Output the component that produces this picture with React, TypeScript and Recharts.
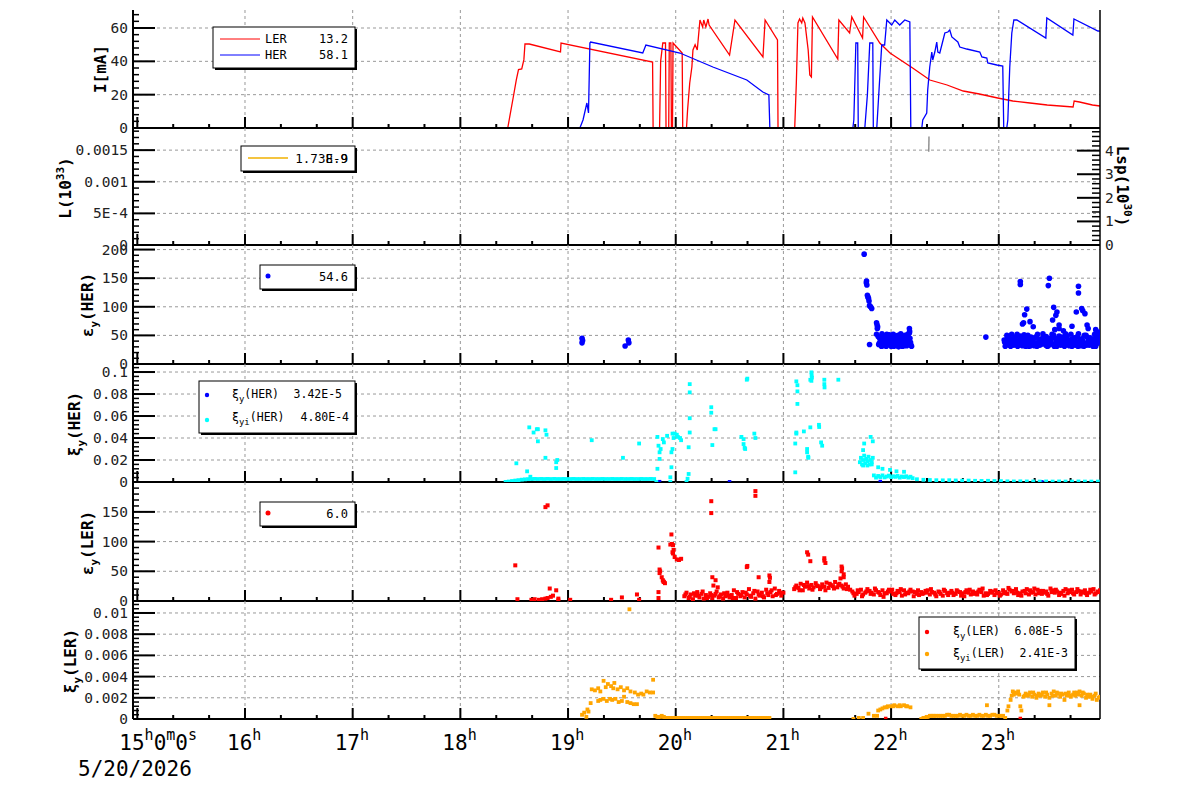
import React from "react"
import { ComposedChart, Line, Scatter, XAxis, YAxis, CartesianGrid } from "recharts"

// time axis: hours after 15:00 on 5/20/2026
const hourLabels = ["15", "16", "17", "18", "19", "20", "21", "22", "23"]
const dateLabel = "5/20/2026"

// beam currents [h, mA]
const lerCurrent = [
  [-0.04, 0], [3.44, 0], [3.49, 18], [3.52, 29], [3.54, 35], [3.57, 35.4], [3.59, 41], [3.6, 50.4], [3.64, 50.4],
  [3.93, 45.6], [3.935, 51], [4.785, 39.6], [4.79, 0], [4.85, 0], [4.86, 40], [4.88, 51], [4.905, 51], [4.91, 0],
  [4.935, 0], [4.94, 51], [4.955, 51], [4.96, 0], [4.97, 0], [4.975, 51], [5.06, 45], [5.065, 0], [5.1, 0],
  [5.11, 10.8], [5.13, 27], [5.15, 36.6], [5.16, 46.8], [5.18, 50], [5.2, 46.8], [5.225, 64.8], [5.25, 60.6],
  [5.26, 64.8], [5.28, 60.6], [5.3, 65.4], [5.31, 61.8], [5.5, 43.8], [5.55, 64.8], [5.81, 42.6], [5.83, 64.8],
  [5.945, 52.8], [5.95, 0], [6.105, 0], [6.12, 27], [6.135, 63], [6.15, 65.4], [6.17, 63], [6.18, 66], [6.2, 63],
  [6.23, 46.8], [6.245, 31.8], [6.26, 30.6], [6.27, 66.6], [6.505, 41.4], [6.515, 64.8], [6.615, 57], [6.635, 66.6],
  [6.735, 54], [6.745, 66.6], [6.895, 51], [6.99, 45], [7.2, 36], [7.36, 28.8], [7.52, 25.8], [7.67, 22.2],
  [7.82, 20.4], [7.99, 18], [8.13, 16.2], [8.29, 15], [8.45, 13.8], [8.69, 12.6], [8.7, 16.2], [8.75, 15.6],
  [8.87, 13.8], [8.94, 13.2],
]
const herCurrent = [
  [-0.04, 0], [4.11, 0], [4.139, 4.8], [4.175, 15], [4.19, 9], [4.203, 51], [4.21, 51.6], [4.694, 45], [4.723, 49.8],
  [5.039, 45], [5.345, 36.6], [5.66, 28.8], [5.809, 21.6], [5.865, 19.8], [5.874, 0], [6.645, 0], [6.654, 4.8],
  [6.673, 51], [6.69, 51], [6.695, 0], [6.756, 0], [6.78, 20], [6.802, 51], [6.83, 51], [6.835, 0], [6.867, 0],
  [6.89, 25], [6.913, 49.8], [6.94, 49.8], [6.96, 64.8], [7.006, 61.8], [7.034, 64.8], [7.08, 61.8], [7.127, 64.8],
  [7.174, 63.6], [7.183, 0], [7.285, 0], [7.294, 4.8], [7.331, 9], [7.34, 22.8], [7.359, 36.6], [7.378, 45.6],
  [7.387, 40.8], [7.406, 45.6], [7.424, 51.6], [7.434, 45.6], [7.452, 45], [7.471, 49.8], [7.499, 57], [7.527, 57.6],
  [7.545, 58.8], [7.564, 54.6], [7.62, 51.6], [7.638, 48.6], [7.703, 47.4], [7.824, 45.6], [7.843, 42.6],
  [7.889, 42], [7.898, 39], [7.982, 37.8], [8.037, 37.2], [8.046, 0], [8.074, 0], [8.084, 4.8], [8.102, 36.6],
  [8.121, 57], [8.14, 64.8], [8.168, 64.8], [8.437, 54], [8.446, 66], [8.688, 55.8], [8.698, 65.4], [8.921, 58.2],
  [8.94, 58.1],
]

// luminosity
const lumL = [[0, 0], [8.9, 0]]
const lumLsp = [[7.35, 3.95], [7.352, 4.6]]

// vertical emittance HER
const herEmitEarly = [[4.13, 37], [4.13, 45], [4.135, 41], [4.53, 31.5], [4.56, 42], [4.565, 37]]
const herEmitSpikes = [
  [6.75, 192], [6.77, 142], [6.772, 145], [6.775, 138], [6.78, 120], [6.785, 117], [6.79, 115], [6.795, 110],
  [6.8, 102], [6.81, 100], [6.82, 97], [6.865, 72], [6.87, 68], [6.875, 65], [6.872, 62], [6.865, 52], [6.8, 34],
  [7.17, 62], [7.172, 57], [7.88, 47],
]
const herEmitBand1 = [
  [6.88, 48], [6.89, 36], [6.9, 42], [6.91, 31], [6.92, 50], [6.93, 38], [6.94, 45], [6.95, 33], [6.96, 52],
  [6.97, 40], [6.98, 35], [6.99, 47], [7.0, 31], [7.01, 44], [7.02, 52], [7.03, 37], [7.04, 33], [7.05, 49],
  [7.06, 41], [7.07, 30], [7.08, 46], [7.09, 53], [7.1, 36], [7.11, 43], [7.12, 32], [7.13, 50], [7.14, 39],
  [7.15, 34], [7.16, 47], [7.17, 54], [7.18, 38], [7.19, 31],
  [6.885, 34], [6.895, 45], [6.905, 38], [6.915, 53], [6.925, 32], [6.935, 47], [6.945, 40], [6.955, 31],
  [6.965, 44], [6.975, 36], [6.985, 51], [6.995, 33], [7.005, 39], [7.015, 48], [7.025, 31], [7.035, 45],
  [7.045, 37], [7.055, 32], [7.065, 50], [7.075, 43], [7.085, 34], [7.095, 40], [7.105, 31], [7.115, 48],
  [7.125, 36], [7.135, 44], [7.145, 32], [7.155, 52], [7.165, 39], [7.175, 45], [7.185, 33],
]
const herEmitBand2 = [
  [8.05, 42], [8.07, 35], [8.09, 48], [8.11, 31], [8.13, 44], [8.15, 38], [8.17, 52], [8.19, 33], [8.21, 46],
  [8.23, 40], [8.25, 31], [8.27, 50], [8.29, 37], [8.31, 44], [8.33, 32], [8.35, 48], [8.37, 39], [8.39, 34],
  [8.41, 53], [8.43, 41], [8.45, 31], [8.47, 45], [8.49, 36], [8.51, 50], [8.53, 33], [8.55, 42], [8.57, 38],
  [8.59, 47], [8.61, 31], [8.63, 44], [8.65, 36], [8.67, 52], [8.69, 40], [8.71, 33], [8.73, 48], [8.75, 37],
  [8.77, 44], [8.79, 31], [8.81, 50], [8.83, 39], [8.85, 46], [8.87, 34], [8.89, 52], [8.91, 41], [8.93, 47],
  [8.06, 31], [8.08, 45], [8.1, 38], [8.12, 52], [8.14, 33], [8.16, 41], [8.18, 36], [8.2, 49], [8.22, 32],
  [8.24, 43], [8.26, 37], [8.28, 31], [8.3, 47], [8.32, 40], [8.34, 35], [8.36, 52], [8.38, 33], [8.4, 44],
  [8.42, 38], [8.44, 48], [8.46, 32], [8.48, 41], [8.5, 35], [8.52, 45], [8.54, 31], [8.56, 49], [8.58, 36],
  [8.6, 42], [8.62, 53], [8.64, 34], [8.66, 40], [8.68, 31], [8.7, 46], [8.72, 38], [8.74, 53], [8.76, 32],
  [8.78, 41], [8.8, 36], [8.82, 47], [8.84, 33], [8.86, 43], [8.88, 38], [8.9, 31], [8.92, 56], [8.94, 44],
  [8.055, 38], [8.075, 50], [8.095, 33], [8.115, 41], [8.135, 36], [8.155, 47], [8.175, 31], [8.195, 42],
  [8.215, 37], [8.235, 51], [8.255, 34], [8.275, 44], [8.295, 32], [8.315, 39], [8.335, 46], [8.355, 31],
  [8.375, 43], [8.395, 36], [8.415, 48], [8.435, 33], [8.455, 40], [8.475, 35], [8.495, 52], [8.515, 31],
  [8.535, 38], [8.555, 45], [8.575, 33], [8.595, 40], [8.615, 36], [8.635, 49], [8.655, 32], [8.675, 43],
  [8.695, 37], [8.715, 46], [8.735, 31], [8.755, 41], [8.775, 35], [8.795, 50], [8.815, 33], [8.835, 44],
  [8.855, 38], [8.875, 31], [8.895, 45], [8.915, 36], [8.935, 42],
]
const herEmitOutliers = [
  [8.2, 144], [8.2, 139], [8.47, 150], [8.46, 137], [8.74, 136], [8.74, 124], [8.26, 96], [8.24, 86], [8.23, 72],
  [8.29, 74], [8.51, 99], [8.54, 91], [8.53, 85], [8.5, 77], [8.56, 68], [8.56, 62], [8.72, 91], [8.77, 97],
  [8.78, 93], [8.8, 88], [8.68, 66], [8.82, 68], [8.83, 62], [8.32, 65], [8.22, 70], [8.52, 60], [8.6, 58],
  [8.9, 60], [8.93, 55],
]

// beam-beam parameter HER
const herXiY = [[4.85, 0.0003], [5.5, 0.0002], [6.9, 0.0004], [7.6, 0.0002], [8.4, 0.0001]]
const herXiYiBase = [
  [3.42, 0.0001], [3.45, 0.0004], [3.48, 0.0009], [3.51, 0.0013], [3.54, 0.0017], [3.57, 0.0021], [3.6, 0.0024],
  [3.63, 0.0026], [3.66, 0.0027], [3.69, 0.0028], [3.72, 0.0027], [3.75, 0.0028], [3.78, 0.0027], [3.81, 0.0028],
  [3.84, 0.0027], [3.87, 0.0028], [3.9, 0.0027], [3.93, 0.0027], [3.96, 0.0028], [3.99, 0.0027], [4.02, 0.0027],
  [4.05, 0.0028], [4.08, 0.0027], [4.11, 0.0027], [4.14, 0.0028], [4.17, 0.0027], [4.2, 0.0027], [4.23, 0.0028],
  [4.26, 0.0027], [4.29, 0.0027], [4.32, 0.0028], [4.35, 0.0027], [4.38, 0.0027], [4.41, 0.0028], [4.44, 0.0027],
  [4.47, 0.0027], [4.5, 0.0028], [4.53, 0.0027], [4.56, 0.0027], [4.59, 0.0028], [4.62, 0.0027], [4.65, 0.0027],
  [4.68, 0.0028], [4.71, 0.0027], [4.74, 0.0027], [4.77, 0.0028], [4.8, 0.0027],
]
const herXiYiScatter = [
  [3.64, 0.0497], [3.68, 0.045], [3.71, 0.048], [3.72, 0.048], [3.79, 0.047], [3.8, 0.043], [3.72, 0.037],
  [3.52, 0.017], [3.62, 0.0097], [3.65, 0.0048], [3.79, 0.022], [3.89, 0.018], [3.9, 0.02], [3.89, 0.0127],
  [4.22, 0.038], [4.51, 0.022], [4.66, 0.035],
  [4.83, 0.041], [4.84, 0.033], [4.85, 0.027], [4.85, 0.021], [4.83, 0.012], [4.86, 0.03], [4.88, 0.039],
  [4.89, 0.036], [4.92, 0.042], [4.97, 0.044], [4.98, 0.04], [4.96, 0.027], [4.96, 0.0134], [4.95, 0.0043],
  [4.97, 0.03], [4.99, 0.044], [5.01, 0.043], [5.02, 0.041], [5.04, 0.04], [5.05, 0.038], [4.82, 0.0], [4.95, 0.0],
  [5.1, 0.0], [5.13, 0.089], [5.13, 0.0815], [5.13, 0.058], [5.13, 0.045], [5.12, 0.0316], [5.12, 0.0073],
  [5.11, 0.003], [5.33, 0.068], [5.33, 0.063], [5.36, 0.048], [5.37, 0.048], [5.34, 0.0336], [5.66, 0.093],
  [5.665, 0.094], [5.61, 0.041], [5.63, 0.039], [5.63, 0.0345], [5.64, 0.031], [5.645, 0.03], [5.73, 0.044],
  [5.74, 0.04], [6.12, 0.0915], [6.13, 0.088], [6.13, 0.0824], [6.13, 0.071], [6.12, 0.045], [6.12, 0.044],
  [6.11, 0.035], [6.11, 0.0088], [6.26, 0.0997], [6.262, 0.097], [6.265, 0.095], [6.25, 0.093], [6.26, 0.092],
  [6.38, 0.093], [6.38, 0.089], [6.382, 0.086], [6.51, 0.093], [6.19, 0.046], [6.25, 0.0497], [6.33, 0.052],
  [6.332, 0.05], [6.35, 0.036], [6.36, 0.033], [6.22, 0.03], [6.22, 0.027], [6.23, 0.023], [6.232, 0.022],
  [6.74, 0.029], [6.81, 0.041], [6.83, 0.037], [6.75, 0.035],
]
const herXiYiTail = [
  [6.71, 0.018], [6.72, 0.022], [6.73, 0.016], [6.74, 0.02], [6.75, 0.024], [6.76, 0.017], [6.77, 0.021],
  [6.78, 0.019], [6.79, 0.023], [6.8, 0.016], [6.81, 0.02], [6.82, 0.018], [6.83, 0.022], [6.74, 0.015],
  [6.78, 0.015], [6.82, 0.016], [6.88, 0.0134], [6.92, 0.012], [6.99, 0.011], [7.05, 0.0097], [7.12, 0.0093],
  [6.84, 0.006], [6.86, 0.004], [6.88, 0.0055], [6.9, 0.0045], [6.92, 0.006], [6.94, 0.0042], [6.96, 0.005],
  [6.98, 0.0058], [7.0, 0.0044], [7.02, 0.0052], [7.04, 0.0047], [7.06, 0.0055], [7.08, 0.004], [7.1, 0.005],
  [7.12, 0.0045], [7.14, 0.0052], [7.16, 0.004], [7.18, 0.0048], [7.2, 0.0035], [7.24, 0.0025], [7.3, 0.002],
  [7.36, 0.0018], [7.42, 0.0016], [7.48, 0.0015], [7.54, 0.0016], [7.6, 0.0014], [7.66, 0.0012], [7.72, 0.0013],
  [7.78, 0.0011], [7.84, 0.001], [7.9, 0.0011], [7.96, 0.0009], [8.02, 0.0008], [8.08, 0.0006], [8.14, 0.0005],
  [8.2, 0.0006], [8.26, 0.0005], [8.32, 0.0005], [8.38, 0.0004], [8.44, 0.0005], [8.5, 0.0004], [8.56, 0.0005],
  [8.62, 0.0004], [8.68, 0.0004], [8.74, 0.0005], [8.8, 0.0004], [8.86, 0.0004], [8.92, 0.0004],
]

// vertical emittance LER
const lerEmitScatter = [
  [3.51, 60], [3.53, 3], [3.66, 2], [3.69, 3], [3.73, 2], [3.76, 3], [3.79, 4], [3.81, 5], [3.84, 7], [3.83, 21],
  [3.89, 18], [3.86, 9], [3.91, 4], [3.91, 1], [3.79, 158], [3.81, 161], [4.02, 2], [4.4, 2], [4.5, 6], [4.64, 11],
  [4.66, 2], [4.84, 90], [4.85, 53], [4.855, 50], [4.85, 47], [4.87, 40], [4.88, 35], [4.885, 33], [4.89, 32],
  [4.9, 30], [4.84, 15], [4.84, 5], [4.96, 112], [4.95, 95], [4.965, 96], [4.975, 94], [4.97, 82], [4.975, 80],
  [4.99, 74], [5.01, 70], [5.03, 69], [5.05, 71], [4.98, 86], [5.33, 168], [5.33, 148], [5.74, 185], [5.74, 177],
  [5.34, 40], [5.37, 35], [5.35, 26], [5.39, 23], [5.66, 57], [5.665, 59], [5.77, 40], [5.87, 43], [5.875, 39],
  [5.87, 32], [6.22, 82], [6.23, 78], [6.25, 67], [6.38, 72], [6.38, 68], [6.39, 64], [6.54, 58], [6.545, 55],
  [6.54, 50], [6.56, 45], [6.56, 40], [6.53, 38],
]
const lerEmitBand = [
  [5.08, 8], [5.1, 14], [5.12, 5], [5.14, 11], [5.16, 3], [5.18, 9], [5.2, 15], [5.22, 6], [5.24, 12], [5.26, 4],
  [5.28, 10], [5.3, 7], [5.32, 13], [5.34, 5], [5.36, 9], [5.38, 16], [5.4, 6], [5.42, 11], [5.44, 4], [5.46, 8],
  [5.48, 14], [5.5, 6], [5.52, 10], [5.54, 18], [5.56, 5], [5.58, 12], [5.6, 8], [5.62, 15], [5.64, 6], [5.66, 11],
  [5.68, 20], [5.7, 7], [5.72, 13], [5.74, 4], [5.76, 16], [5.78, 9], [5.8, 14], [5.82, 6], [5.84, 19], [5.86, 10],
  [5.88, 15], [5.9, 8], [5.92, 21], [5.94, 12], [5.96, 17], [5.98, 9], [6.0, 14],
  [5.09, 11], [5.13, 7], [5.17, 13], [5.21, 9], [5.25, 16], [5.29, 5], [5.33, 10], [5.37, 12], [5.41, 8],
  [5.45, 13], [5.49, 9], [5.53, 5], [5.57, 15], [5.61, 10], [5.65, 14], [5.69, 9], [5.73, 17], [5.77, 11],
  [5.81, 8], [5.85, 13], [5.89, 18], [5.93, 10], [5.97, 14],
  [6.1, 20], [6.12, 26], [6.14, 22], [6.16, 29], [6.18, 18], [6.2, 24], [6.22, 31], [6.24, 21], [6.26, 27],
  [6.28, 23], [6.3, 30], [6.32, 25], [6.34, 20], [6.36, 28], [6.38, 24], [6.4, 31], [6.42, 22], [6.44, 27],
  [6.46, 25], [6.48, 32], [6.5, 23], [6.52, 29], [6.54, 26], [6.56, 21], [6.58, 28], [6.6, 24], [6.62, 19],
  [6.11, 23], [6.15, 18], [6.19, 27], [6.23, 25], [6.27, 19], [6.31, 26], [6.35, 23], [6.39, 18], [6.43, 29],
  [6.47, 21], [6.51, 27], [6.55, 24], [6.59, 20],
  [6.64, 16], [6.68, 12], [6.72, 19], [6.76, 14], [6.8, 17], [6.84, 11], [6.88, 15], [6.92, 18], [6.96, 13],
  [7.0, 16], [7.04, 10], [7.08, 15], [7.12, 18], [7.16, 13], [7.2, 16], [7.24, 12], [7.28, 15], [7.32, 17],
  [7.36, 11], [7.4, 14], [7.44, 16], [7.48, 9], [7.52, 13], [7.56, 17], [7.6, 12], [7.64, 15], [7.68, 8],
  [7.72, 14], [7.76, 16], [7.8, 11], [7.84, 15], [7.88, 13], [7.92, 17], [7.96, 10], [8.0, 14], [8.04, 18],
  [8.08, 12], [8.12, 16], [8.16, 20], [8.2, 13], [8.24, 17], [8.28, 11], [8.32, 15], [8.36, 19], [8.4, 12],
  [8.44, 16], [8.48, 21], [8.52, 14], [8.56, 10], [8.6, 17], [8.64, 13], [8.68, 19], [8.72, 15], [8.76, 11],
  [8.8, 18], [8.84, 14], [8.88, 20], [8.92, 16],
  [6.66, 9], [6.7, 15], [6.74, 11], [6.78, 20], [6.82, 14], [6.86, 18], [6.9, 10], [6.94, 13], [6.98, 19],
  [7.02, 12], [7.06, 17], [7.1, 9], [7.14, 14], [7.18, 19], [7.22, 15], [7.26, 10], [7.3, 13], [7.34, 18],
  [7.38, 15], [7.42, 8], [7.46, 12], [7.5, 17], [7.54, 14], [7.58, 10], [7.62, 16], [7.66, 13], [7.7, 18],
  [7.74, 11], [7.78, 14], [7.82, 19], [7.86, 9], [7.9, 12], [7.94, 16], [7.98, 13], [8.02, 11], [8.06, 15],
  [8.1, 19], [8.14, 13], [8.18, 10], [8.22, 16], [8.26, 20], [8.3, 14], [8.34, 11], [8.38, 17], [8.42, 14],
  [8.46, 9], [8.5, 18], [8.54, 16], [8.58, 12], [8.62, 20], [8.66, 15], [8.7, 11], [8.74, 17], [8.78, 14],
  [8.82, 10], [8.86, 16], [8.9, 13], [8.94, 18],
  [6.65, 13], [6.69, 18], [6.73, 8], [6.77, 16], [6.81, 12], [6.85, 21], [6.89, 14], [6.93, 7], [6.97, 16],
  [7.01, 19], [7.05, 13], [7.09, 20], [7.13, 11], [7.17, 16], [7.21, 8], [7.25, 18], [7.29, 12], [7.33, 14],
  [7.37, 20], [7.41, 11], [7.45, 15], [7.49, 19], [7.53, 10], [7.57, 14], [7.61, 18], [7.65, 9], [7.69, 15],
  [7.73, 19], [7.77, 12], [7.81, 16], [7.85, 21], [7.89, 10], [7.93, 14], [7.97, 18], [8.01, 9], [8.05, 13],
  [8.09, 22], [8.13, 17], [8.17, 14], [8.21, 9], [8.25, 13], [8.29, 18], [8.33, 21], [8.37, 13], [8.41, 17],
  [8.45, 12], [8.49, 15], [8.53, 19], [8.57, 14], [8.61, 9], [8.65, 18], [8.69, 13], [8.73, 20], [8.77, 16],
  [8.81, 13], [8.85, 19], [8.89, 11], [8.93, 15],
]

// beam-beam parameter LER
const lerXiY = [[6.95, 0.00005], [7.31, 0.00002], [8.2, 0.00005]]
const lerXiYi = [
  [4.13, 0.0004], [4.15, 0.0006], [4.17, 0.0002], [4.19, 0.0007], [4.18, 0.0009], [4.57, 0.01035],
  [4.22, 0.0028], [4.25, 0.0027], [4.28, 0.0029], [4.3, 0.0026], [4.33, 0.0036], [4.35, 0.003], [4.37, 0.0033],
  [4.4, 0.0031], [4.42, 0.0029], [4.43, 0.0034], [4.46, 0.0028], [4.49, 0.003], [4.52, 0.0027], [4.55, 0.0029],
  [4.58, 0.0026], [4.62, 0.0025], [4.65, 0.0023], [4.68, 0.0024], [4.7, 0.0023], [4.73, 0.0026], [4.76, 0.0025],
  [4.79, 0.0025], [4.79, 0.0037],
  [4.21, 0.0015], [4.28, 0.0017], [4.3, 0.0018], [4.33, 0.0019], [4.36, 0.0017], [4.39, 0.0019], [4.41, 0.0018],
  [4.44, 0.0019], [4.47, 0.0016], [4.5, 0.0017], [4.52, 0.0021], [4.55, 0.0016], [4.58, 0.0015], [4.61, 0.0014],
  [4.64, 0.0014],
  [4.81, 0.0003], [4.83, 0.0002], [4.84, 0.0002], [4.86, 0.0002], [4.87, 0.0003], [4.89, 0.0002], [4.9, 0.0001],
  [4.92, 0.0001], [4.93, 0.0001], [4.95, 0.0001], [4.97, 0.0001], [4.99, 0.0001], [5.01, 0.0001], [5.03, 0.0001],
  [5.05, 0.0001], [5.07, 0.0001], [5.09, 0.0001], [5.11, 0.0001], [5.13, 0.0001], [5.15, 0.0001], [5.17, 0.0001],
  [5.19, 0.0001], [5.21, 0.0001], [5.23, 0.0001], [5.25, 0.0001], [5.27, 0.0001], [5.29, 0.0001], [5.31, 0.0001],
  [5.33, 0.0001], [5.35, 0.0001], [5.37, 0.0001], [5.39, 0.0001], [5.41, 0.0001], [5.43, 0.0001], [5.45, 0.0001],
  [5.47, 0.0001], [5.49, 0.0001], [5.51, 0.0001], [5.53, 0.0001], [5.55, 0.0001], [5.57, 0.0001], [5.59, 0.0001],
  [5.61, 0.0001], [5.63, 0.0001], [5.65, 0.0001], [5.67, 0.0001], [5.69, 0.0001], [5.71, 0.0001], [5.73, 0.0001],
  [5.75, 0.0001], [5.77, 0.0001], [5.79, 0.0001], [5.81, 0.0001], [5.83, 0.0001], [5.85, 0.0001], [5.87, 0.0001],
  [6.65, 0], [6.7, 0.0001], [6.74, 0.0001], [6.79, 0.0005], [6.84, 0.0003], [6.87, 0.0003], [6.88, 0.0008],
  [6.9, 0.0009], [6.92, 0.001], [6.94, 0.0011], [6.97, 0.0012], [7.0, 0.0012], [7.03, 0.0013], [7.06, 0.0012],
  [7.09, 0.0012], [7.12, 0.0013], [7.15, 0.0012], [7.18, 0.0011], [6.96, 0.0011], [7.02, 0.0012], [7.08, 0.0013],
  [7.14, 0.0012],
  [7.28, 0], [7.3, 0.0001], [7.31, 0.0001], [7.33, 0.0002], [7.34, 0.0002], [7.36, 0.0003], [7.37, 0.0003],
  [7.39, 0.0003], [7.4, 0.0003], [7.42, 0.0003], [7.44, 0.0003], [7.46, 0.0003], [7.48, 0.0003], [7.5, 0.0003],
  [7.52, 0.0004], [7.54, 0.0004], [7.56, 0.0003], [7.58, 0.0003], [7.6, 0.0003], [7.62, 0.0003], [7.64, 0.0004],
  [7.66, 0.0003], [7.68, 0.0003], [7.7, 0.0004], [7.72, 0.0003], [7.74, 0.0003], [7.76, 0.0004], [7.78, 0.0003],
  [7.8, 0.0003], [7.82, 0.0004], [7.84, 0.0003], [7.86, 0.0003], [7.88, 0.0004], [7.89, 0.0013], [7.9, 0.0003],
  [7.92, 0.0003], [7.94, 0.0004], [7.96, 0.0004], [7.98, 0.0003], [8.0, 0.0003], [8.02, 0.0003], [8.04, 0.0003],
  [8.06, 0.0001],
  [8.08, 0.0008], [8.09, 0.0012], [8.11, 0.0018], [8.12, 0.0022], [8.13, 0.0026], [8.15, 0.0025], [8.17, 0.0024],
  [8.19, 0.0023], [8.2, 0.0012], [8.21, 0.0008], [8.23, 0.0021], [8.25, 0.0024], [8.27, 0.0022], [8.29, 0.0025],
  [8.31, 0.0021], [8.33, 0.0023], [8.35, 0.002], [8.37, 0.0024], [8.39, 0.0022], [8.41, 0.0025], [8.43, 0.0021],
  [8.45, 0.0023], [8.47, 0.002], [8.47, 0.0013], [8.49, 0.0024], [8.51, 0.0026], [8.53, 0.0022], [8.55, 0.0024],
  [8.57, 0.0021], [8.59, 0.0023], [8.61, 0.0018], [8.63, 0.0022], [8.65, 0.0025], [8.67, 0.0021], [8.69, 0.0023],
  [8.71, 0.0022], [8.73, 0.0025], [8.75, 0.0026], [8.75, 0.0013], [8.77, 0.0022], [8.79, 0.0024], [8.81, 0.002],
  [8.83, 0.0021], [8.85, 0.0023], [8.87, 0.0019], [8.89, 0.0022], [8.91, 0.0018], [8.93, 0.002],
  [8.14, 0.0023], [8.18, 0.0026], [8.24, 0.0022], [8.28, 0.0023], [8.32, 0.0025], [8.36, 0.0022], [8.4, 0.0023],
  [8.44, 0.0025], [8.5, 0.0022], [8.54, 0.0025], [8.58, 0.0024], [8.62, 0.0024], [8.66, 0.0022], [8.7, 0.0025],
  [8.74, 0.0023], [8.78, 0.0025], [8.82, 0.0023], [8.86, 0.0021], [8.9, 0.0024], [8.94, 0.0021],
]

const pts = (a: number[][]) => a.map(([x, y]) => ({ x, y }))

const FONT = "'DejaVu Sans Mono', monospace"
const X_DOMAIN = [-0.04, 8.94]
const W = 1200
const PLOT_LEFT = 133
const PLOT_RIGHT = 1100
const AXW = 60
const PAD = 10

function steps(step: number, max: number) {
  const out: number[] = []
  for (let k = 0; k * step <= max + 1e-12; k++) out.push(+(k * step).toFixed(7))
  return out
}
const xTicks = steps(1 / 3, 8.94)
const hourGrid = [1, 2, 3, 4, 5, 6, 7, 8]
const isHour = (v: number) => Math.abs(v - Math.round(v)) < 1e-4

type Major = { v: number; label: string }
type AxisCfg = { max: number; majors: Major[]; minor: number }
type PanelCfg = { top: number; bottom: number; y: AxisCfg; right?: AxisCfg }

// panel frames and axis set-up (ROOT canvas layout)
const P_CUR: PanelCfg = {
  top: 10, bottom: 128,
  y: { max: 70.8, minor: 4, majors: [{ v: 0, label: "0" }, { v: 20, label: "20" }, { v: 40, label: "40" }, { v: 60, label: "60" }] },
}
const P_LUM: PanelCfg = {
  top: 128, bottom: 245,
  y: {
    max: 0.00185, minor: 0.0001,
    majors: [{ v: 0, label: "0" }, { v: 0.0005, label: "5E-4" }, { v: 0.001, label: "0.001" }, { v: 0.0015, label: "0.0015" }],
  },
  right: {
    max: 4.96, minor: 0.2,
    majors: [{ v: 0, label: "0" }, { v: 1, label: "1" }, { v: 2, label: "2" }, { v: 3, label: "3" }, { v: 4, label: "4" }],
  },
}
const P_HEMIT: PanelCfg = {
  top: 245, bottom: 364,
  y: {
    max: 208, minor: 10,
    majors: [{ v: 0, label: "0" }, { v: 50, label: "50" }, { v: 100, label: "100" }, { v: 150, label: "150" }, { v: 200, label: "200" }],
  },
}
const P_HXI: PanelCfg = {
  top: 364, bottom: 482,
  y: {
    max: 0.1073, minor: 0.004,
    majors: [
      { v: 0, label: "0" }, { v: 0.02, label: "0.02" }, { v: 0.04, label: "0.04" },
      { v: 0.06, label: "0.06" }, { v: 0.08, label: "0.08" }, { v: 0.1, label: "0.1" },
    ],
  },
}
const P_LEMIT: PanelCfg = {
  top: 482, bottom: 601,
  y: { max: 200.3, minor: 10, majors: [{ v: 0, label: "0" }, { v: 50, label: "50" }, { v: 100, label: "100" }, { v: 150, label: "150" }] },
}
const P_LXI: PanelCfg = {
  top: 601, bottom: 719,
  y: {
    max: 0.01113, minor: 0.0004,
    majors: [
      { v: 0, label: "0" }, { v: 0.002, label: "0.002" }, { v: 0.004, label: "0.004" },
      { v: 0.006, label: "0.006" }, { v: 0.008, label: "0.008" }, { v: 0.01, label: "0.01" },
    ],
  },
}

function XLabel(props: any) {
  const { payload, showLabel } = props
  const x = Number(props.x)
  const y = Number(props.y)
  const v = payload.value as number
  const idx = Math.round(v)
  if (!showLabel || !isHour(v)) return <g />
  return (
    <text x={x - 18} y={y + 31} fontSize={21} fill="#000" style={{ fontFamily: FONT }}>
      <tspan>{hourLabels[idx]}</tspan>
      <tspan dy={-10} fontSize={15}>h</tspan>
      {idx === 0 && (
        <>
          <tspan dy={10}>0</tspan>
          <tspan dy={-10} fontSize={15}>m</tspan>
          <tspan dy={10}>0</tspan>
          <tspan dy={-10} fontSize={15}>s</tspan>
        </>
      )}
    </text>
  )
}

function YLabel(props: any) {
  const { payload, majors, side } = props
  const x = Number(props.x)
  const y = Number(props.y)
  const m = (majors as Major[]).find((t) => Math.abs(t.v - payload.value) < 1e-9)
  if (!m) return <g />
  const right = side === "right"
  return (
    <text
      x={right ? x + 5 : x - 5}
      y={y + 5}
      textAnchor={right ? "start" : "end"}
      fontSize={14.5}
      fill="#222"
      style={{ fontFamily: FONT }}
    >
      {m.label}
    </text>
  )
}

// inward tick marks (ROOT style), placed through the chart scales
const xTickShape = (p: any) => {
  const len = isHour(p.payload.x) ? 11 : 4
  return <rect x={p.cx - 1} y={p.cy - len} width={2} height={len} fill="#000" />
}
const yTickShape = (majors: Major[], right: boolean) => (p: any) => {
  const mj = majors.some((m) => Math.abs(m.v - p.payload.y) < 1e-9)
  const len = right ? (mj ? 23 : 8) : mj ? 22 : 6
  const th = mj ? 2 : 1.5
  return <rect x={right ? p.cx - len : p.cx} y={p.cy - th / 2} width={len} height={th} fill="#000" />
}

const square = (color: string, s: number) => (p: any) =>
  <rect x={p.cx - s / 2} y={p.cy - s / 2} width={s} height={s} fill={color} />
const dot = (color: string, r: number) => (p: any) => <circle cx={p.cx} cy={p.cy} r={r} fill={color} />

function Panel({ cfg, first, last, children }: { cfg: PanelCfg; first?: boolean; last?: boolean; children: React.ReactNode }) {
  const { top, bottom, y, right } = cfg
  const extra = last ? 79 : PAD
  const height = bottom - top + PAD + extra
  const yTicks = steps(y.minor, y.max)
  const rTicks = right ? steps(right.minor, right.max) : []
  return (
    <div style={{ position: "absolute", left: 0, top: top - PAD }}>
      <ComposedChart
        width={W}
        height={height}
        margin={{ top: PAD, right: W - PLOT_RIGHT - AXW, bottom: 0, left: PLOT_LEFT - AXW }}
      >
        <CartesianGrid
          stroke="#999"
          strokeDasharray="3 3"
          fill="none"
          horizontalValues={y.majors.map((m) => m.v).filter((v) => v > 0)}
          verticalValues={hourGrid}
        />
        <XAxis
          dataKey="x"
          type="number"
          domain={X_DOMAIN}
          allowDataOverflow
          ticks={xTicks}
          interval={0}
          tickSize={0}
          tickMargin={0}
          tickLine={false}
          height={extra}
          axisLine={{ stroke: "#000", strokeWidth: 2 }}
          tick={(p: any) => <XLabel {...p} showLabel={!!last} />}
        />
        {first && (
          <XAxis
            xAxisId="top"
            orientation="top"
            type="number"
            domain={X_DOMAIN}
            height={0}
            tick={false}
            tickLine={false}
            axisLine={{ stroke: "#000", strokeWidth: 2 }}
          />
        )}
        <YAxis
          dataKey="y"
          type="number"
          domain={[0, y.max]}
          allowDataOverflow
          ticks={yTicks}
          interval={0}
          tickSize={0}
          tickMargin={0}
          tickLine={false}
          width={AXW}
          axisLine={{ stroke: "#000", strokeWidth: 2 }}
          tick={(p: any) => <YLabel {...p} majors={y.majors} side="left" />}
        />
        {right ? (
          <YAxis
            yAxisId="r"
            orientation="right"
            dataKey="y"
            type="number"
            domain={[0, right.max]}
            allowDataOverflow
            ticks={rTicks}
            interval={0}
            tickSize={0}
            tickMargin={0}
            tickLine={false}
            width={AXW}
            axisLine={{ stroke: "#000", strokeWidth: 1.5 }}
            tick={(p: any) => <YLabel {...p} majors={right.majors} side="right" />}
          />
        ) : (
          <YAxis
            yAxisId="frame"
            orientation="right"
            type="number"
            domain={[0, 1]}
            width={AXW}
            tick={false}
            tickLine={false}
            axisLine={{ stroke: "#000", strokeWidth: 1.5 }}
          />
        )}
        <Scatter
          data={xTicks.map((t) => ({ x: t, y: 0 }))}
          shape={xTickShape}
          legendType="none"
          isAnimationActive={false}
        />
        <Scatter
          data={yTicks.map((v) => ({ x: X_DOMAIN[0], y: v }))}
          shape={yTickShape(y.majors, false)}
          legendType="none"
          isAnimationActive={false}
        />
        {right && (
          <Scatter
            yAxisId="r"
            data={rTicks.map((v) => ({ x: X_DOMAIN[1], y: v }))}
            shape={yTickShape(right.majors, true)}
            legendType="none"
            isAnimationActive={false}
          />
        )}
        {children}
      </ComposedChart>
    </div>
  )
}

function Legend({ x, y, w, h }: { x: number; y: number; w: number; h: number }) {
  return (
    <>
      <rect x={x + 2} y={y + 2} width={w} height={h} fill="#000" />
      <rect x={x} y={y} width={w} height={h} fill="#fff" stroke="#000" strokeWidth={1} />
    </>
  )
}

function Overlay() {
  const t = { fontFamily: FONT, fill: "#000" }
  const title = { fontFamily: FONT, fontWeight: "bold" as const, fontSize: 16, fill: "#000" }
  return (
    <svg width={W} height={798} style={{ position: "absolute", left: 0, top: 0, pointerEvents: "none" }}>
      {/* axis titles */}
      <text transform="translate(106,69) rotate(-90)" textAnchor="middle" style={title}>I[mA]</text>
      <text transform="translate(71,188) rotate(-90)" textAnchor="middle" style={title}>
        L(10<tspan dy={-7} fontSize={11}>33</tspan><tspan dy={7}>)</tspan>
      </text>
      <text transform="translate(93,305) rotate(-90)" textAnchor="middle" style={title}>
        ε<tspan dy={5} fontSize={11}>y</tspan><tspan dy={-5}>(HER)</tspan>
      </text>
      <text transform="translate(80,424) rotate(-90)" textAnchor="middle" style={title}>
        ξ<tspan dy={5} fontSize={11}>y</tspan><tspan dy={-5}>(HER)</tspan>
      </text>
      <text transform="translate(93,543) rotate(-90)" textAnchor="middle" style={title}>
        ε<tspan dy={5} fontSize={11}>y</tspan><tspan dy={-5}>(LER)</tspan>
      </text>
      <text transform="translate(76,661) rotate(-90)" textAnchor="middle" style={title}>
        ξ<tspan dy={5} fontSize={11}>y</tspan><tspan dy={-5}>(LER)</tspan>
      </text>
      <text transform="translate(1117,186) rotate(90)" textAnchor="middle" style={title}>
        Lsp(10<tspan dy={-7} fontSize={11}>30</tspan><tspan dy={7}>)</tspan>
      </text>
      <text x={78} y={776} fontSize={21} style={t}>{dateLabel}</text>

      {/* current legend */}
      <Legend x={213} y={27} w={142} h={41} />
      <line x1={220} x2={260} y1={39} y2={39} stroke="#f00" strokeWidth={1} />
      <line x1={220} x2={260} y1={55} y2={55} stroke="#00f" strokeWidth={1} />
      <text x={265} y={43} fontSize={12} style={t}>LER</text>
      <text x={348} y={43} fontSize={12} textAnchor="end" style={t}>13.2</text>
      <text x={265} y={59} fontSize={12} style={t}>HER</text>
      <text x={348} y={59} fontSize={12} textAnchor="end" style={t}>58.1</text>

      {/* luminosity legend */}
      <Legend x={241} y={146} w={114} h={25} />
      <line x1={248} x2={288} y1={158} y2={158} stroke="#f0b000" strokeWidth={1.5} />
      <text x={348} y={163} fontSize={12.5} textAnchor="end" style={t}>1.73E-9</text>
      <text x={348} y={163} fontSize={12.5} textAnchor="end" style={t}>8.9</text>

      {/* HER emittance legend */}
      <Legend x={260} y={265} w={95} h={24} />
      <circle cx={268} cy={276} r={2.5} fill="#00f" />
      <text x={348} y={281} fontSize={12} textAnchor="end" style={t}>54.6</text>

      {/* HER xi legend */}
      <Legend x={199} y={381} w={156} h={52} />
      <circle cx={207} cy={395} r={2.2} fill="#00f" />
      <circle cx={207} cy={420} r={2.2} fill="#0ff" />
      <text x={232} y={398} fontSize={11.5} style={t}>
        ξ<tspan dy={4} fontSize={9}>y</tspan><tspan dy={-4}>(HER)</tspan>
      </text>
      <text x={342} y={398} fontSize={11.5} textAnchor="end" style={t}>3.42E-5</text>
      <text x={232} y={421} fontSize={11.5} style={t}>
        ξ<tspan dy={4} fontSize={9}>yi</tspan><tspan dy={-4}>(HER)</tspan>
      </text>
      <text x={349} y={421} fontSize={11.5} textAnchor="end" style={t}>4.80E-4</text>

      {/* LER emittance legend */}
      <Legend x={260} y={502} w={95} h={24} />
      <circle cx={268} cy={513} r={2.5} fill="#f00" />
      <text x={348} y={518} fontSize={12} textAnchor="end" style={t}>6.0</text>

      {/* LER xi legend */}
      <Legend x={919} y={617} w={156} h={52} />
      <circle cx={927} cy={632} r={2.2} fill="#f00" />
      <circle cx={927} cy={654} r={2.2} fill="#ffa500" />
      <text x={953} y={635} fontSize={11.5} style={t}>
        ξ<tspan dy={4} fontSize={9}>y</tspan><tspan dy={-4}>(LER)</tspan>
      </text>
      <text x={1063} y={635} fontSize={11.5} textAnchor="end" style={t}>6.08E-5</text>
      <text x={953} y={657} fontSize={11.5} style={t}>
        ξ<tspan dy={4} fontSize={9}>yi</tspan><tspan dy={-4}>(LER)</tspan>
      </text>
      <text x={1068} y={657} fontSize={11.5} textAnchor="end" style={t}>2.41E-3</text>
    </svg>
  )
}

export default function App() {
  return (
    <div style={{ position: "absolute", left: 0, top: 0, width: W, height: 798, background: "#fff", fontFamily: FONT }}>
      <Panel cfg={P_CUR} first>
        <Line data={pts(lerCurrent)} dataKey="y" type="linear" stroke="#f00" strokeWidth={1.3} dot={false} isAnimationActive={false} />
        <Line data={pts(herCurrent)} dataKey="y" type="linear" stroke="#00f" strokeWidth={1.3} dot={false} isAnimationActive={false} />
      </Panel>

      <Panel cfg={P_LUM}>
        <Line data={pts(lumL)} dataKey="y" type="linear" stroke="#f0b000" strokeWidth={1.3} dot={false} isAnimationActive={false} />
        <Line data={pts(lumLsp)} yAxisId="r" dataKey="y" type="linear" stroke="#777" strokeWidth={1.2} dot={false} isAnimationActive={false} />
      </Panel>

      <Panel cfg={P_HEMIT}>
        <Scatter data={pts([...herEmitEarly, ...herEmitSpikes, ...herEmitBand1, ...herEmitBand2, ...herEmitOutliers])} shape={dot("#00f", 2.8)} isAnimationActive={false} />
      </Panel>

      <Panel cfg={P_HXI}>
        <Scatter data={pts(herXiY)} shape={square("#00f", 3.5)} isAnimationActive={false} />
        <Scatter data={pts([...herXiYiBase, ...herXiYiScatter, ...herXiYiTail])} shape={square("#0ff", 3.8)} isAnimationActive={false} />
      </Panel>

      <Panel cfg={P_LEMIT}>
        <Scatter data={pts([...lerEmitScatter, ...lerEmitBand])} shape={square("#f00", 4)} isAnimationActive={false} />
      </Panel>

      <Panel cfg={P_LXI} last>
        <Scatter data={pts(lerXiY)} shape={square("#f00", 3.5)} isAnimationActive={false} />
        <Scatter data={pts(lerXiYi)} shape={square("#ffa500", 3.8)} isAnimationActive={false} />
      </Panel>

      <Overlay />
    </div>
  )
}
